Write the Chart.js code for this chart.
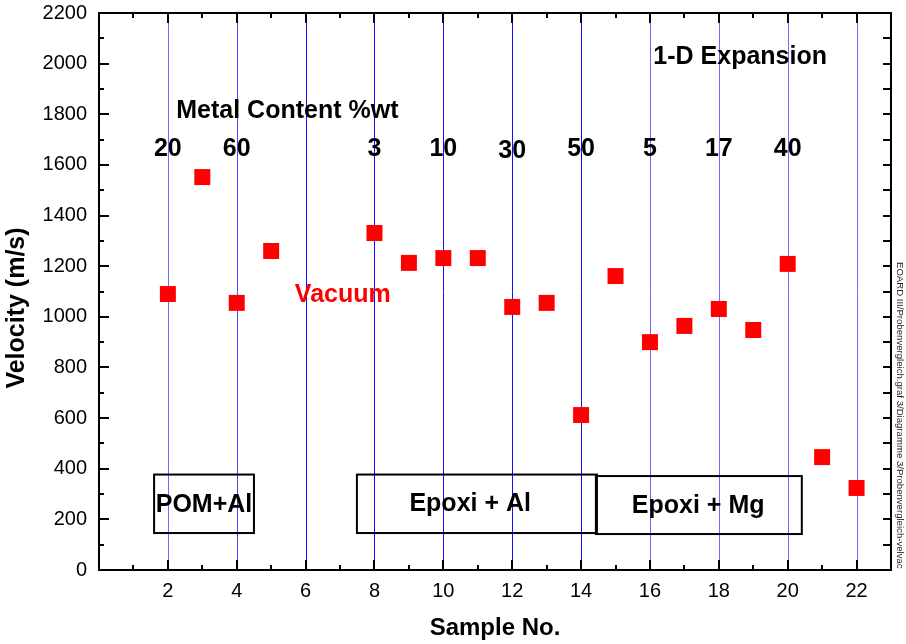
<!DOCTYPE html>
<html>
<head>
<meta charset="utf-8">
<script src="https://cdn.jsdelivr.net/npm/chart.js@4.4.0/dist/chart.umd.min.js"></script>
<style>
body { margin: 0; background: #fff; }
</style>
</head>
<body>
<canvas id="velChart" width="906" height="644"></canvas>
<script>
// Probennummern und gemessene Geschwindigkeiten (Vakuum)
const sampleNo = [2, 3, 4, 5, 8, 9, 10, 11, 12, 13, 14, 15, 16, 17, 18, 19, 20, 21, 22];
const velocity = [1090, 1552, 1055, 1260, 1331, 1213, 1232, 1232, 1039, 1055, 612, 1161, 900, 964, 1031, 948, 1209, 446, 324];

// Metallgehalt %wt je Trennlinie
const metalContent = ['20', '60', '3', '10', '30', '50', '5', '17', '40'];
const metalAt = [2, 4, 8, 10, 12, 14, 16, 18, 20];

// Senkrechte Trennlinien
const dividers = [2, 4, 6, 8, 10, 12, 14, 16, 18, 20, 22];

// Werkstoffgruppen
const groupNames = ['POM+Al', 'Epoxi + Al', 'Epoxi + Mg'];
const groupFrom = [1.6, 7.49, 14.43];
const groupTo = [4.5, 14.46, 20.41];

const FONT = "'Liberation Sans', Arial, sans-serif";
const fileTag = 'EOARD III/Probenvergleich.graf 3/Diagramme 3/Probenvergleich-velvac';

Chart.defaults.color = '#000';
Chart.defaults.font.family = FONT;

function lineColor(v) {
    if (v === 2 || v >= 16) return '#6c6cff';
    if (v === 4) return '#4a4aff';
    return '#1010ff';
}

// Text zentriert auf Versalhöhe
function label(ctx, text, px, py, size, color) {
    ctx.font = 'bold ' + size + 'px ' + FONT;
    ctx.fillStyle = color || '#000';
    ctx.textAlign = 'center';
    ctx.textBaseline = 'alphabetic';
    ctx.fillText(text, px, py + size * 0.36);
}

const decor = {
    id: 'decor',
    beforeDatasetsDraw(chart) {
        const { ctx, chartArea: a, scales: { x } } = chart;
        ctx.save();
        ctx.lineWidth = 1;
        dividers.forEach(v => {
            const px = Math.round(x.getPixelForValue(v)) + 0.5;
            ctx.strokeStyle = lineColor(v);
            ctx.beginPath();
            ctx.moveTo(px, a.top);
            ctx.lineTo(px, a.bottom);
            ctx.stroke();
        });
        ctx.restore();
    },
    afterDatasetsDraw(chart) {
        const { ctx, chartArea: a, scales: { x, y } } = chart;
        ctx.save();

        // Rahmen der Gruppen
        ctx.strokeStyle = '#000';
        ctx.lineWidth = 2;
        groupNames.forEach((name, i) => {
            const x0 = x.getPixelForValue(groupFrom[i]);
            const x1 = x.getPixelForValue(groupTo[i]);
            const y0 = y.getPixelForValue(i === 2 ? 371 : 377);
            const y1 = y.getPixelForValue(i === 2 ? 142 : 146);
            ctx.strokeRect(x0, y0, x1 - x0, y1 - y0);
        });
        label(ctx, groupNames[0], x.getPixelForValue(3.05), y.getPixelForValue(265), 25);
        label(ctx, groupNames[1], x.getPixelForValue(10.78), y.getPixelForValue(268), 25);
        label(ctx, groupNames[2], x.getPixelForValue(17.4), y.getPixelForValue(261), 25);

        // Beschriftungen
        metalContent.forEach((t, i) => {
            const yy = t === '30' ? 1663 : 1670;
            label(ctx, t, x.getPixelForValue(metalAt[i]), y.getPixelForValue(yy), 25);
        });
        label(ctx, 'Metal Content %wt', x.getPixelForValue(5.47), y.getPixelForValue(1821), 25);
        label(ctx, '1-D Expansion', x.getPixelForValue(18.62), y.getPixelForValue(2034), 25);
        label(ctx, 'Vacuum', x.getPixelForValue(7.08), y.getPixelForValue(1094), 25, '#ff0000');

        // Achsenrahmen und Ticks nach innen
        ctx.lineWidth = 2;
        ctx.strokeRect(a.left, a.top, a.right - a.left, a.bottom - a.top);
        ctx.beginPath();
        for (let v = 1; v < 23; v++) {
            const px = Math.round(x.getPixelForValue(v));
            const len = v % 2 === 0 ? 10 : 5;
            ctx.moveTo(px, a.bottom); ctx.lineTo(px, a.bottom - len);
            ctx.moveTo(px, a.top); ctx.lineTo(px, a.top + len);
        }
        for (let v = 100; v < 2200; v += 100) {
            const py = Math.round(y.getPixelForValue(v));
            const len = v % 200 === 0 ? 10 : 5;
            ctx.moveTo(a.left, py); ctx.lineTo(a.left + len, py);
            ctx.moveTo(a.right, py); ctx.lineTo(a.right - 8, py);
        }
        ctx.stroke();

        // Achsentitel
        ctx.fillStyle = '#000';
        ctx.font = 'bold 24px ' + FONT;
        ctx.textAlign = 'center';
        ctx.textBaseline = 'middle';
        ctx.fillText('Sample No.', 495, 628);
        ctx.save();
        ctx.translate(17, 308);
        ctx.rotate(-Math.PI / 2);
        ctx.font = 'bold 25px ' + FONT;
        ctx.fillText('Velocity (m/s)', 0, 0);
        ctx.restore();

        // Dateipfad am rechten Rand
        ctx.save();
        ctx.translate(900, 262);
        ctx.rotate(Math.PI / 2);
        ctx.font = '9.6px ' + FONT;
        ctx.fillStyle = '#222';
        ctx.textAlign = 'left';
        ctx.textBaseline = 'middle';
        ctx.fillText(fileTag, 0, 0);
        ctx.restore();

        ctx.restore();
    }
};

new Chart(document.getElementById('velChart'), {
    type: 'scatter',
    data: {
        datasets: [{
            data: sampleNo.map((s, i) => ({ x: s, y: velocity[i] })),
            backgroundColor: '#ff0000',
            borderWidth: 0,
            pointStyle: 'rect',
            pointRadius: 11.3
        }]
    },
    options: {
        responsive: false,
        animation: false,
        layout: { padding: { top: 13, right: 15, left: 0, bottom: 0 } },
        plugins: { legend: { display: false }, tooltip: { enabled: false } },
        scales: {
            x: {
                type: 'linear',
                min: 0,
                max: 23,
                afterFit: s => { s.height = 74; s.paddingLeft = 0; s.paddingRight = 0; },
                grid: { display: false, drawTicks: false },
                border: { display: false },
                ticks: {
                    stepSize: 1,
                    autoSkip: false,
                    maxRotation: 0,
                    padding: 9,
                    font: { size: 20 },
                    callback: v => (v > 0 && v % 2 === 0) ? String(v) : ''
                }
            },
            y: {
                min: 0,
                max: 2200,
                afterFit: s => { s.width = 99; s.paddingTop = 0; s.paddingBottom = 0; },
                grid: { display: false, drawTicks: false },
                border: { display: false },
                ticks: {
                    stepSize: 200,
                    padding: 12,
                    font: { size: 20 },
                    callback: v => String(v)
                }
            }
        }
    },
    plugins: [decor]
});
</script>
</body>
</html>
